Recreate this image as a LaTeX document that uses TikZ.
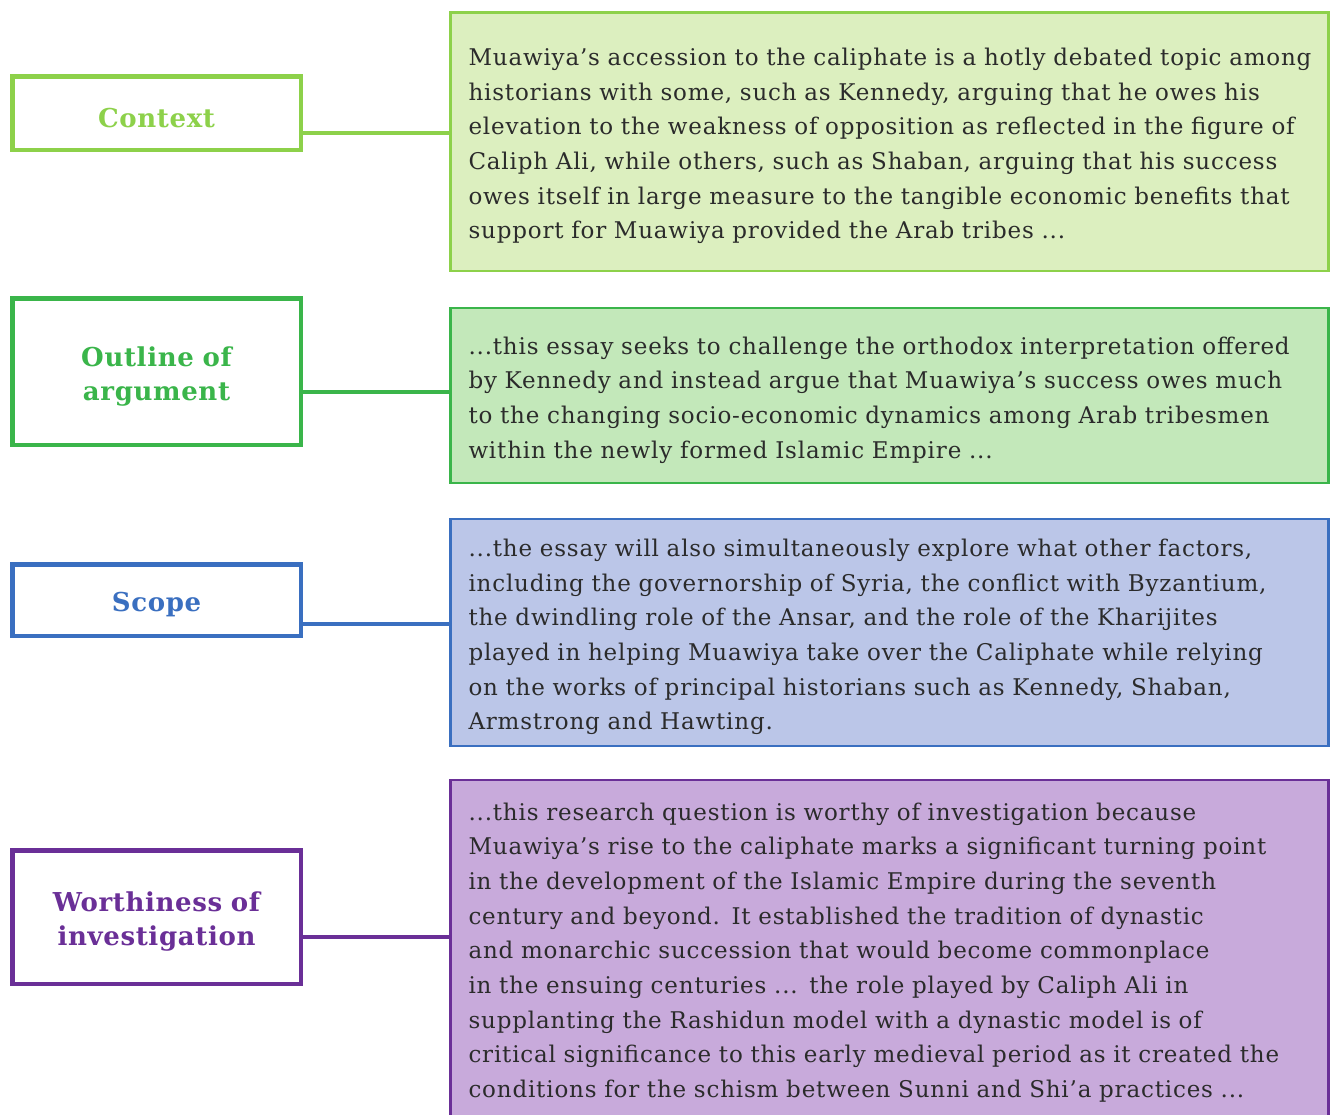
\documentclass[tikz,border=0pt]{standalone}
\usepackage{fontspec}
\setmainfont{DejaVu Serif}
\usetikzlibrary{positioning}
\definecolor{ctxgreen}{HTML}{8DD14A}
\definecolor{ctxfill}{HTML}{DCEFBF}
\definecolor{outgreen}{HTML}{3AB54A}
\definecolor{outfill}{HTML}{C3E8BA}
\definecolor{scpblue}{HTML}{3A6FC0}
\definecolor{scpfill}{HTML}{BBC6E8}
\definecolor{wrthpurple}{HTML}{6A2F97}
\definecolor{wrthfill}{HTML}{C8AADB}
\definecolor{bodytext}{HTML}{2B2B2B}
\tikzset{
    lblbox/.style={rectangle, draw=#1, line width=4.5pt, fill=white,
                   text=#1, minimum width=288.5pt, text width=280pt,
                   align=center, inner sep=0pt,
                   execute at begin node={\rule{0pt}{28.8pt}},
                   font=\fontsize{26}{34}\selectfont\bfseries\addfontfeatures{LetterSpace=2.5}},
    txtbox/.style 2 args={rectangle, draw=#1, fill=#2, line width=2.5pt,
                   minimum width=878pt, text width=842pt, inner xsep=17pt,
                   align=left, text=bodytext,
                   execute at begin node={\rule{0pt}{26.5pt}},
                   font=\fontsize{23}{34.7}\selectfont\addfontfeatures{LetterSpace=3.6}},
    link/.style={line width=4.5pt, draw=#1},
}
\begin{document}
\begin{tikzpicture}[x=1pt, y=-1pt]
    \useasboundingbox (0,0) rectangle (1330,1114);
    % left labels
    \node[lblbox=ctxgreen, minimum height=73.5pt] (ctx) at (156.5,113) {Context};
    \node[lblbox=outgreen, minimum height=146.5pt] (outl) at (156.5,371.5) {Outline of\\argument};
    \node[lblbox=scpblue, minimum height=71.5pt] (scp) at (156.5,600) {Scope};
    \node[lblbox=wrthpurple, minimum height=133.5pt] (wrth) at (156.5,917) {Worthiness of\\investigation};
    % text boxes
    \node[txtbox={ctxgreen}{ctxfill}, minimum height=258.5pt] (ctxtxt) at (889.5,141.5) {%
        Muawiya’s accession to the caliphate is a hotly debated topic among\\
        historians with some, such as Kennedy, arguing that he owes his\\
        elevation to the weakness of opposition as reflected in the figure of\\
        Caliph Ali, while others, such as Shaban, arguing that his success\\
        owes itself in large measure to the tangible economic benefits that\\
        support for Muawiya provided the Arab tribes ...};
    \node[txtbox={outgreen}{outfill}, minimum height=175pt] (outltxt) at (889.5,395.5) {%
        ...this essay seeks to challenge the orthodox interpretation offered\\
        by Kennedy and instead argue that Muawiya’s success owes much\\
        to the changing socio-economic dynamics among Arab tribesmen\\
        within the newly formed Islamic Empire ...};
    \node[txtbox={scpblue}{scpfill}, minimum height=227pt] (scptxt) at (889.5,632.5) {%
        ...the essay will also simultaneously explore what other factors,\\
        including the governorship of Syria, the conflict with Byzantium,\\
        the dwindling role of the Ansar, and the role of the Kharijites\\
        played in helping Muawiya take over the Caliphate while relying\\
        on the works of principal historians such as Kennedy, Shaban,\\
        Armstrong and Hawting.};
    \node[txtbox={wrthpurple}{wrthfill}, minimum height=336pt] (wrthtxt) at (889.5,948) {%
        ...this research question is worthy of investigation because\\
        Muawiya’s rise to the caliphate marks a significant turning point\\
        in the development of the Islamic Empire during the seventh\\
        century and beyond. It established the tradition of dynastic\\
        and monarchic succession that would become commonplace\\
        in the ensuing centuries ... the role played by Caliph Ali in\\
        supplanting the Rashidun model with a dynastic model is of\\
        critical significance to this early medieval period as it created the\\
        conditions for the schism between Sunni and Shi’a practices ...};
    % connectors
    \draw[link=ctxgreen] ([yshift=-20pt]ctx.east) -- ([yshift=-20pt]ctx.east -| ctxtxt.west);
    \draw[link=outgreen] ([yshift=-20.5pt]outl.east) -- ([yshift=-20.5pt]outl.east -| outltxt.west);
    \draw[link=scpblue] ([yshift=-24pt]scp.east) -- ([yshift=-24pt]scp.east -| scptxt.west);
    \draw[link=wrthpurple] ([yshift=-20pt]wrth.east) -- ([yshift=-20pt]wrth.east -| wrthtxt.west);
\end{tikzpicture}
\end{document}
